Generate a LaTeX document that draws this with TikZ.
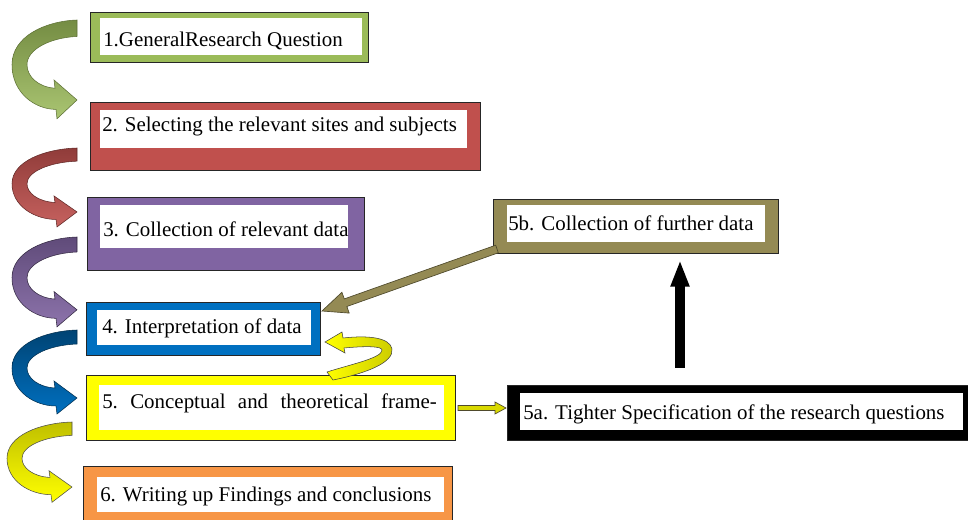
\documentclass[tikz,border=0pt]{standalone}
\usepackage{fontspec}
\setmainfont{Liberation Serif}
\usetikzlibrary{arrows.meta,fit}
\definecolor{cgreen}{HTML}{9BBB59}
\definecolor{cred}{HTML}{C0504D}
\definecolor{cpurple}{HTML}{8064A2}
\definecolor{cblue}{HTML}{0070C0}
\definecolor{cyellow}{HTML}{FFFF00}
\definecolor{corange}{HTML}{F79646}
\definecolor{colive}{HTML}{948A54}
\definecolor{coliveline}{HTML}{4F4A2C}
\newcommand{\ribbonarrow}[5]{%
  \begin{scope}[shift={(0,#1)}, yscale=#2]
    \path[top color=#3, bottom color=#4, draw=#5, line width=0.4pt]
      (77,0) .. controls (45,1) and (12,14) .. (12,38)
      .. controls (12,62) and (35,76) .. (56,76)
      -- (57,84) -- (77,68) -- (54,51) -- (55,58)
      .. controls (38,57) and (27,48) .. (27,38)
      .. controls (27,25) and (50,15) .. (77,14) -- cycle;
  \end{scope}}
\begin{document}
\begin{tikzpicture}[x=0.75pt,y=-0.75pt,
  outerbox/.style={draw=black!85, line width=0.6pt, inner sep=0pt},
  lbl/.style={anchor=base west, inner sep=0pt, font=\fontsize{15.7}{18}\selectfont}]
\useasboundingbox (0,0) rectangle (968,520);
\clip (0,0) rectangle (968,520);

% boxes
\node[outerbox, fill=cgreen, fit={(90,12) (368,62)}] (b1) {};
\fill[white] (100,18) rectangle (362,55);
\node[lbl] (t1) at (103,47) {1.GeneralResearch Question};

\node[outerbox, fill=cred, fit={(90,102) (480,170)}] (b2) {};
\fill[white] (100,110) rectangle (467,148);
\node[lbl] (t2) at (102,132) {2. Selecting the relevant sites and subjects};

\node[outerbox, fill=cpurple, fit={(87,197) (364,270)}] (b3) {};
\fill[white] (100,205) rectangle (348,248);
\node[lbl] (t3) at (103,237) {3. Collection of relevant data};

\node[outerbox, fill=cblue, fit={(86,302) (320,355)}] (b4) {};
\fill[white] (97,310) rectangle (311,345);
\node[lbl] (t4) at (102,334) {4. Interpretation of data};

\node[outerbox, fill=cyellow, fit={(86,375) (455,440)}] (b5) {};
\fill[white] (99,385) rectangle (444,430);
\node[lbl] (t5) at (102,408) {\makebox[251pt][s]{5.\hfill Conceptual\hfill and\hfill theoretical\hfill frame-}};

\node[outerbox, fill=corange, fit={(83,466) (452,530)}] (b6) {};
\fill[white] (97,477) rectangle (444,512);
\node[lbl] (t6) at (100,501) {6. Writing up Findings and conclusions};

\node[outerbox, fill=colive, fit={(493,199) (778,253)}] (b5b) {};
\fill[white] (507,205) rectangle (765,242);
\node[lbl] (t5b) at (508,231) {5b. Collection of further data};

\node[outerbox, fill=black, fit={(507,385) (972,440)}] (b5a) {};
\fill[white] (520,393) rectangle (963,430);
\node[lbl] (t5a) at (523,420) {5a. Tighter Specification of the research questions};

% left ribbon arrows
\ribbonarrow{20}{1.176}{cgreen!75!black}{cgreen!85!white}{cgreen!60!black}
\ribbonarrow{148}{0.94}{cred!75!black}{cred!90!white}{cred!50!black}
\ribbonarrow{237}{1.07}{cpurple!75!black}{cpurple!90!white}{cpurple!40!black}
\ribbonarrow{330}{1.0}{cblue!60!black}{cblue}{cblue!40!black}
\begin{scope}[xshift=-5*0.75pt]
\ribbonarrow{422}{0.956}{cyellow!75!black}{cyellow}{black!70}
\end{scope}

% U-turn yellow arrow from 5 back to 4
\path[left color=cyellow, right color=cyellow!80!black, draw=black!75, line width=0.4pt]
  (327,372) -- (333,380) .. controls (368,373) and (394,362) .. (392,349)
  .. controls (390,338) and (370,335) .. (343,338)
  -- (342,332) -- (325,342) -- (345,353) -- (344,348)
  .. controls (365,346) and (382,346) .. (382,350)
  .. controls (382,358) and (352,364) .. (327,372) -- cycle;

% olive arrow from 5b to 4
\path[fill=colive, draw=coliveline, line width=0.5pt]
  (322,311) -- (349.2,313.1) -- (346.9,306.5) -- (498.3,252.8)
  -- (495.7,245.2) -- (344.3,298.9) -- (341.9,292.3) -- cycle;

% small yellow arrow from 5 to 5a
\path[fill=cyellow!85!black, draw=coliveline, line width=0.5pt]
  (458,405.5) -- (495,405.5) -- (495,402) -- (506,408) -- (495,414)
  -- (495,410.5) -- (458,410.5) -- cycle;

% black arrow from 5a to 5b
\coordinate (ka) at (680,368);
\coordinate (kb) at (680,260);
\draw[line width=7.5pt, -{Triangle[length=20pt,width=13pt]}] (ka) -- (kb);
\end{tikzpicture}
\end{document}
